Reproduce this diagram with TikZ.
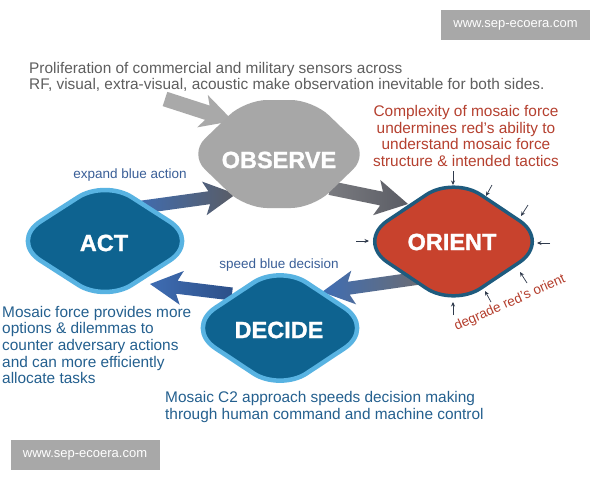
\documentclass[tikz,border=0pt]{standalone}
\usepackage{fontspec}
\setmainfont{Liberation Sans}
\newfontfamily\heavyfont[FakeBold=1.2]{Liberation Sans Bold}
\usetikzlibrary{calc,arrows.meta}
\definecolor{obsgray}{HTML}{A7A7A7}
\definecolor{inarrow}{HTML}{A9A9A9}
\definecolor{bluefill}{HTML}{0E6390}
\definecolor{blueedge}{HTML}{58B3E2}
\definecolor{redfill}{HTML}{C8422D}
\definecolor{rededge}{HTML}{1E5B7E}
\definecolor{bluetxt}{HTML}{24608F}
\definecolor{lbltxt}{HTML}{3A5F98}
\definecolor{redtxt}{HTML}{B5402F}
\definecolor{graytxt}{HTML}{5E5E5E}
\definecolor{wmgray}{HTML}{A8A8A8}
\definecolor{arrblue}{HTML}{3F6DB3}
\definecolor{arrnavy}{HTML}{2C4F88}
\definecolor{arrgray}{HTML}{5A5C64}
\definecolor{arrgrayl}{HTML}{7A7B80}
\definecolor{tickcol}{HTML}{2F3A4C}
% fat arrow: #1 name, #2 start, #3 tip, #4 shaft half width, #5 head half width, #6 head length, #7 style
\newcommand\fatarrow[7]{%
  \coordinate (#1-h) at ($(#3)!#6!(#2)$);
  \coordinate (#1-b) at ($(#3)!#6+5pt!(#2)$);
  \path[#7] ($(#2)!#4!90:(#3)$) -- ($(#1-h)!#4!90:(#3)$) -- ($(#1-b)!#5!90:(#3)$)
    -- (#3) -- ($(#1-b)!#5!-90:(#3)$) -- ($(#1-h)!#4!-90:(#3)$) -- ($(#2)!#4!-90:(#3)$) -- cycle;
}
% hexagonal blob: #1 cx, #2 cy, #3 half width, #4 half height, #5 top half width, #6 style
\newcommand\hexblob[6]{%
  \path[#6] ({#1-#3},#2) -- ({#1-#5},{#2-#4}) -- ({#1+#5},{#2-#4}) -- ({#1+#3},#2)
    -- ({#1+#5},{#2+#4}) -- ({#1-#5},{#2+#4}) -- cycle;
}
% softly rounded rhombus: #1 name, #2 cx, #3 cy, #4 half width, #5 half height,
% #6 cut fraction at side points, #7 cut fraction at top/bottom, #8 style
\newcommand\rrhomb[8]{%
  \coordinate (#1-L) at ({#2-#4},#3);
  \coordinate (#1-T) at (#2,{#3-#5});
  \coordinate (#1-R) at ({#2+#4},#3);
  \coordinate (#1-B) at (#2,{#3+#5});
  \pgfmathsetmacro\cs{#6}\pgfmathsetmacro\ct{#7}%
  \pgfmathsetmacro\ccs{0.45*#6}\pgfmathsetmacro\cct{0.45*#7}%
  \path[#8] ($(#1-L)!\cs!(#1-T)$) -- ($(#1-T)!\ct!(#1-L)$)
    .. controls ($(#1-T)!\cct!(#1-L)$) and ($(#1-T)!\cct!(#1-R)$) .. ($(#1-T)!\ct!(#1-R)$)
    -- ($(#1-R)!\cs!(#1-T)$)
    .. controls ($(#1-R)!\ccs!(#1-T)$) and ($(#1-R)!\ccs!(#1-B)$) .. ($(#1-R)!\cs!(#1-B)$)
    -- ($(#1-B)!\ct!(#1-R)$)
    .. controls ($(#1-B)!\cct!(#1-R)$) and ($(#1-B)!\cct!(#1-L)$) .. ($(#1-B)!\ct!(#1-L)$)
    -- ($(#1-L)!\cs!(#1-B)$)
    .. controls ($(#1-L)!\ccs!(#1-B)$) and ($(#1-L)!\ccs!(#1-T)$) .. ($(#1-L)!\cs!(#1-T)$)
    -- cycle;
}
\begin{document}
\begin{tikzpicture}[x=1pt,y=-1pt,
  body/.style={font=\fontsize{15.4}{16.6}\selectfont, inner sep=0pt},
  small/.style={font=\fontsize{13.5}{15}\selectfont, inner sep=0pt},
  big/.style={font=\fontsize{23.5}{26}\selectfont\heavyfont, text=white, inner sep=0pt},
  wmbox/.style={fill=wmgray, text=white, font=\fontsize{13}{15}\selectfont, inner sep=0pt, minimum width=149pt, minimum height=30pt},
  tick/.style={draw=tickcol, line width=0.7pt, -{Stealth[length=4.5pt,width=4pt]}}]
\useasboundingbox[fill=white] (0,0) rectangle (600,480);

% watermarks
\node[wmbox] (wm1) at (515.5,25) {www.sep-ecoera.com};
\node[wmbox] (wm2) at (85,455) {www.sep-ecoera.com};

% top text
\node[body, text=graytxt, align=left, anchor=west] (prolif) at (29,77)
  {Proliferation of commercial and military sensors across\\RF, visual, extra-visual, acoustic make observation inevitable for both sides.};

% connector coordinates
\coordinate (in-s) at (165,99);
\coordinate (in-e) at (233,121);
\coordinate (ao-s) at (135,208);
\coordinate (ao-e) at (236,194);
\coordinate (oo-s) at (330,188);
\coordinate (oo-e) at (408,204);
\coordinate (od-s) at (420,278);
\coordinate (od-e) at (322,292);
\coordinate (da-s) at (232,294);
\coordinate (da-e) at (150,284);

% fat arrows (behind shapes)
\fatarrow{in}{in-s}{in-e}{7.5pt}{17pt}{27pt}{fill=inarrow}
\fatarrow{ao}{ao-s}{ao-e}{6.5pt}{17pt}{27pt}{left color=arrblue, right color=arrgray}
\fatarrow{oo}{oo-s}{oo-e}{7pt}{18pt}{27pt}{left color=arrgrayl, right color=arrgray}
\fatarrow{od}{od-s}{od-e}{6.5pt}{17pt}{27pt}{left color=arrblue, right color=arrgray!90!white}
\fatarrow{da}{da-s}{da-e}{6.5pt}{17pt}{27pt}{left color=arrblue, right color=arrnavy}

% shapes
\hexblob{279}{154}{90}{54}{34}{fill=obsgray, rounded corners=22pt}
\rrhomb{actsh}{105}{241}{95}{61}{0.32}{0.28}{fill=bluefill, draw=blueedge, line width=4.5pt}
\rrhomb{decsh}{280}{328}{95}{63}{0.32}{0.28}{fill=bluefill, draw=blueedge, line width=4.5pt}
\rrhomb{orish}{453.5}{241.5}{97}{65}{0.32}{0.28}{fill=redfill, draw=rededge, line width=3.5pt}

% shape labels
\node[big] (observe) at (279,160) {OBSERVE};
\node[big] (act) at (104,243) {ACT};
\node[big] (decide) at (279,330) {DECIDE};
\node[big] (orient) at (452,242) {ORIENT};

% small inward arrows on ORIENT
\foreach \i/\a/\b in {1/{453,171}/{453,185}, 2/{492,185}/{486,196}, 3/{528,205}/{521,216},
                      4/{550,243}/{537,243}, 5/{356,241}/{369,241}, 6/{527,283}/{520,272},
                      7/{491,302}/{485,291}, 8/{453,315}/{453,302}} {
  \coordinate (t\i-s) at (\a);
  \coordinate (t\i-e) at (\b);
  \draw[tick] (t\i-s) -- (t\i-e);
}

% annotations
\node[body, text=redtxt, align=center] (complex) at (466,136)
  {Complexity of mosaic force\\undermines red’s ability to\\understand mosaic force\\structure \& intended tactics};
\node[small, text=lbltxt] (expand) at (130,175) {expand blue action};
\node[small, text=lbltxt] (speed) at (279,265) {speed blue decision};
\node[small, text=redtxt, rotate=24] (degrade) at (510,303) {degrade red’s orient};
\node[body, text=bluetxt, align=left, anchor=west] (mosaic) at (2,345)
  {Mosaic force provides more\\options \& dilemmas to\\counter adversary actions\\and can more efficiently\\allocate tasks};
\node[body, text=bluetxt, align=left, anchor=west] (c2) at (165,407)
  {Mosaic C2 approach speeds decision making\\through human command and machine control};
\end{tikzpicture}
\end{document}
